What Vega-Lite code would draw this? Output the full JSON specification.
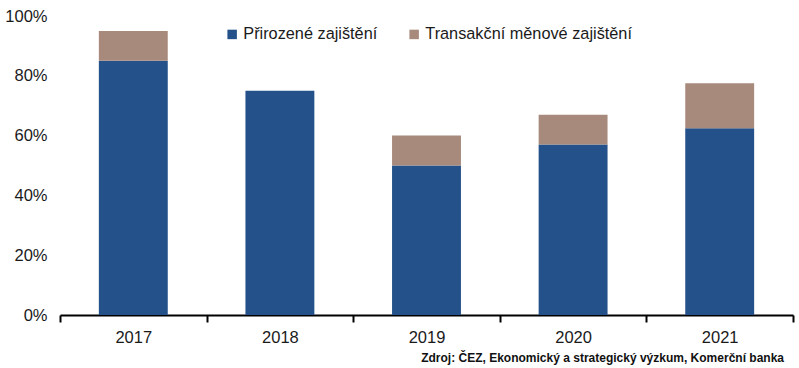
{
  "$schema": "https://vega.github.io/schema/vega-lite/v6.json",
  "width": 733,
  "height": 299,
  "autosize": {"type": "none"},
  "padding": {"left": 60, "top": 16, "right": 6, "bottom": 53},
  "background": "white",
  "config": {
    "view": {"stroke": null},
    "font": "Liberation Sans",
    "text": {"font": "Liberation Sans"}
  },
  "title": {
    "text": "Zdroj: ČEZ, Ekonomický a strategický výzkum, Komerční banka",
    "orient": "bottom",
    "anchor": "end",
    "fontSize": 12,
    "fontWeight": "bold",
    "font": "Liberation Sans",
    "color": "#111",
    "offset": 7,
    "dx": -10
  },
  "data": {
    "values": [
      {"year": "2017", "type": "Přirozené zajištění", "value": 85},
      {"year": "2017", "type": "Transakční měnové zajištění", "value": 10},
      {"year": "2018", "type": "Přirozené zajištění", "value": 75},
      {"year": "2018", "type": "Transakční měnové zajištění", "value": 0},
      {"year": "2019", "type": "Přirozené zajištění", "value": 50},
      {"year": "2019", "type": "Transakční měnové zajištění", "value": 10},
      {"year": "2020", "type": "Přirozené zajištění", "value": 57},
      {"year": "2020", "type": "Transakční měnové zajištění", "value": 10},
      {"year": "2021", "type": "Přirozené zajištění", "value": 62.5},
      {"year": "2021", "type": "Transakční měnové zajištění", "value": 15}
    ]
  },
  "mark": {"type": "bar", "width": {"band": 0.47}},
  "encoding": {
    "x": {
      "field": "year",
      "type": "nominal",
      "scale": {"paddingInner": 0, "paddingOuter": 0},
      "axis": {
        "title": null,
        "labelAngle": 0,
        "labelFontSize": 16.5,
        "labelColor": "#1a1a1a",
        "labelPadding": 7,
        "domainColor": "#000",
        "domainWidth": 2,
        "tickColor": "#000",
        "tickWidth": 2,
        "tickSize": 7,
        "tickBand": "extent"
      }
    },
    "y": {
      "field": "value",
      "type": "quantitative",
      "stack": "zero",
      "scale": {"domain": [0, 100], "nice": false},
      "axis": {
        "title": null,
        "values": [0, 20, 40, 60, 80, 100],
        "labelExpr": "datum.value + '%'",
        "labelFontSize": 16.5,
        "labelColor": "#1a1a1a",
        "labelPadding": 13,
        "domain": false,
        "ticks": false,
        "grid": false
      }
    },
    "color": {
      "field": "type",
      "type": "nominal",
      "scale": {
        "domain": ["Přirozené zajištění", "Transakční měnové zajištění"],
        "range": ["#245189", "#A88A7D"]
      },
      "legend": {
        "title": null,
        "orient": "none",
        "direction": "horizontal",
        "legendX": 164,
        "legendY": 10,
        "symbolType": "square",
        "symbolSize": 90,
        "symbolStrokeWidth": 0,
        "labelFontSize": 16.3,
        "labelLimit": 400,
        "labelColor": "#1a1a1a",
        "labelOffset": 3,
        "columnPadding": 28
      }
    },
    "order": {"field": "type", "sort": "ascending"}
  }
}
